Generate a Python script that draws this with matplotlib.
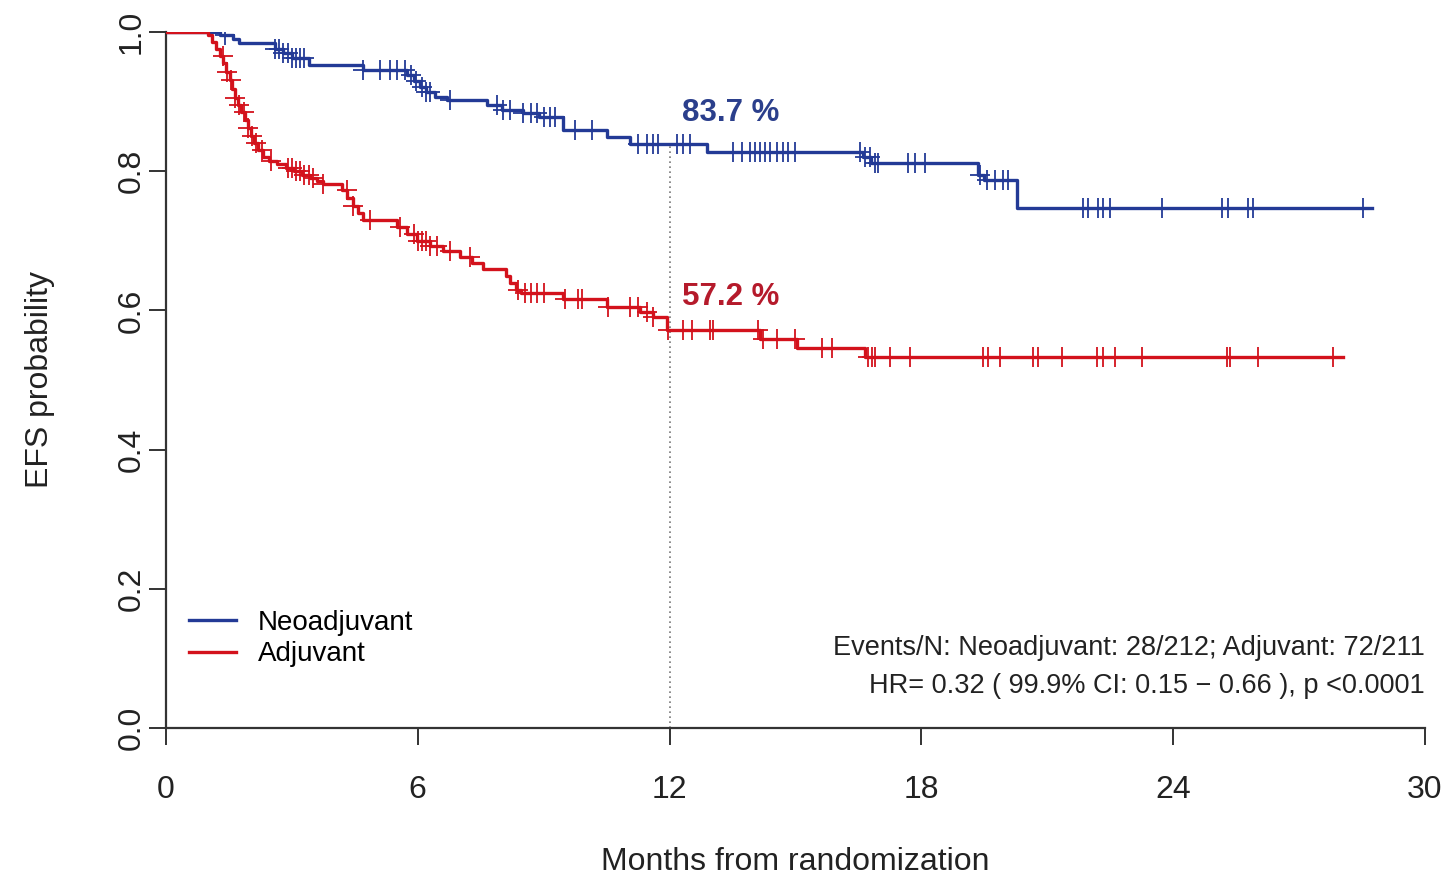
import matplotlib
matplotlib.use("Agg")
import matplotlib.pyplot as plt
import numpy as np

plt.rcParams['font.family'] = ['Liberation Sans', 'DejaVu Sans']

# Neoadjuvant arm: event times (months) and survival after each step
neo_times = [0, 1.3, 1.6, 1.75, 2.6, 2.8, 3.0, 3.4, 4.7, 5.74, 5.9, 6.05, 6.2, 6.4, 6.7,
             7.65, 8.0, 8.5, 8.9, 9.46, 10.5, 11.06, 12.89, 16.6, 16.8, 19.35, 19.5, 20.28]
neo_surv = [1.0, 0.995, 0.990, 0.984, 0.976, 0.970, 0.963, 0.953, 0.945, 0.938, 0.929, 0.921,
            0.914, 0.907, 0.902, 0.895, 0.888, 0.883, 0.878, 0.859, 0.849, 0.839, 0.828,
            0.820, 0.812, 0.795, 0.787, 0.747]
neo_end = 28.74
neo_censor = [1.4, 2.6, 2.7, 2.8, 2.9, 3.0, 3.1, 3.2, 3.3, 4.7, 5.1, 5.34, 5.5, 5.69,
              5.85, 5.95, 6.1, 6.2, 6.3, 6.77, 7.88, 8.03, 8.2, 8.5, 8.7, 8.85, 9.0, 9.15,
              9.27, 9.75, 10.15, 11.25, 11.46, 11.6, 11.72, 12.17, 12.32, 12.48, 13.51,
              13.72, 13.91, 14.03, 14.15, 14.27, 14.39, 14.56, 14.70, 14.82, 14.99, 16.54,
              16.65, 16.77, 16.89, 16.96, 17.68, 17.85, 18.08, 19.4, 19.56, 19.75, 19.94,
              20.06, 21.85, 21.97, 22.21, 22.33, 22.49, 23.73, 25.16, 25.3, 25.78, 25.9, 28.52]

# Adjuvant arm
adj_times = [0, 1.0, 1.1, 1.2, 1.29, 1.36, 1.44, 1.52, 1.58, 1.65, 1.72, 1.80, 1.88, 1.95,
             2.02, 2.10, 2.20, 2.31, 2.45, 2.64, 2.85, 3.05, 3.25, 3.43, 3.60, 3.74, 4.2,
             4.32, 4.45, 4.58, 4.69, 5.50, 5.75, 5.98, 6.3, 6.6, 7.0, 7.3, 7.55, 8.1, 8.2,
             8.35, 8.45, 9.46, 10.51, 11.29, 11.6, 11.94, 14.15, 15.03, 16.65]
adj_surv = [1.0, 0.995, 0.985, 0.975, 0.965, 0.955, 0.943, 0.931, 0.918, 0.905, 0.895,
            0.885, 0.874, 0.862, 0.850, 0.840, 0.830, 0.821, 0.815, 0.810, 0.805, 0.800,
            0.795, 0.790, 0.786, 0.781, 0.773, 0.762, 0.750, 0.740, 0.730, 0.720, 0.710,
            0.700, 0.692, 0.685, 0.677, 0.668, 0.660, 0.650, 0.640, 0.630, 0.625, 0.616,
            0.605, 0.598, 0.590, 0.572, 0.559, 0.546, 0.533]
adj_end = 28.05
adj_censor = [1.35, 1.45, 1.55, 1.65, 1.75, 1.85, 1.95, 2.05, 2.15, 2.3, 2.5, 2.9, 3.0,
              3.1, 3.2, 3.3, 3.4, 3.5, 3.74, 4.31, 4.46, 4.86, 5.58, 5.9, 6.0, 6.1, 6.2,
              6.3, 6.45, 6.77, 7.24, 8.4, 8.55, 8.7, 8.85, 9.0, 9.5, 9.82, 9.91, 10.53,
              11.06, 11.25, 11.46, 11.6, 11.96, 12.32, 12.53, 12.96, 13.03, 14.1, 14.22,
              14.56, 14.99, 15.63, 15.87, 16.73, 16.82, 16.89, 17.25, 17.73, 19.47, 19.59,
              19.87, 20.66, 20.78, 21.35, 22.18, 22.33, 22.61, 23.25, 25.28, 25.35, 26.02,
              27.8]

neo_12m = "83.7 %"
adj_12m = "57.2 %"
stats_text = ["Events/N: Neoadjuvant: 28/212; Adjuvant: 72/211",
              "HR= 0.32 ( 99.9% CI: 0.15 \u2212 0.66 ), p <0.0001"]

BLUE = '#233a96'
RED = '#d3121c'
AXC = '#333333'


def surv_at(times, surv, t):
    idx = np.searchsorted(times, t, side='right') - 1
    return np.asarray(surv)[idx]


def km_plot(ax, times, surv, end, censor, color, label):
    x = list(times) + [end]
    y = list(surv) + [surv[-1]]
    ax.step(x, y, where='post', color=color, lw=2.4, label=label, zorder=3)
    cy = surv_at(np.asarray(times), surv, np.asarray(censor))
    ax.plot(censor, cy, ls='none', marker='+', ms=15, mew=1.3, color=color, zorder=3)


fig = plt.figure(figsize=(14.53, 8.83), dpi=100)
ax = fig.add_axes([0.1142, 0.1755, 0.8665, 0.7883])

km_plot(ax, neo_times, neo_surv, neo_end, neo_censor, BLUE, "Neoadjuvant")
km_plot(ax, adj_times, adj_surv, adj_end, adj_censor, RED, "Adjuvant")

# 12-month landmark
s12 = surv_at(np.asarray(neo_times), neo_surv, 12)
ax.plot([12, 12], [0, s12], ls=(0, (1, 2)), color='#777777', lw=1.2, zorder=2)
ax.text(12.3, s12 + 0.045, neo_12m, color='#2b3f8c', fontsize=22.5, fontweight='bold',
        ha='left', va='center')
s12a = surv_at(np.asarray(adj_times), adj_surv, 12)
ax.text(12.3, s12a + 0.047, adj_12m, color='#b51a2b', fontsize=22.5, fontweight='bold',
        ha='left', va='center')

ax.set_xlim(0, 30)
ax.set_ylim(0, 1.0)
ax.set_xticks(np.arange(0, 31, 6))
ax.set_yticks(np.arange(0, 1.01, 0.2))
ax.set_yticklabels(["0.0", "0.2", "0.4", "0.6", "0.8", "1.0"], rotation=90, va='center')
for s in ['top', 'right']:
    ax.spines[s].set_visible(False)
for s in ['left', 'bottom']:
    ax.spines[s].set_color(AXC)
    ax.spines[s].set_linewidth(1.6)
ax.tick_params(axis='both', length=12, width=1.4, color=AXC, labelsize=23,
               labelcolor='#222222')
ax.tick_params(axis='x', pad=22)
ax.tick_params(axis='y', pad=2)
ax.set_xlabel("Months from randomization", fontsize=23, color='#222222', labelpad=30)
ax.set_ylabel("EFS probability", fontsize=23, color='#222222', labelpad=44)

ax.legend(loc='upper left', bbox_to_anchor=(0.018, 0.17), frameon=False, fontsize=20,
          handlelength=1.7, handletextpad=0.8, labelspacing=0.2, borderpad=0,
          borderaxespad=0)

ax.text(1.0, 0.115, stats_text[0], transform=ax.transAxes, ha='right', va='center',
        fontsize=19.5, color='#222222')
ax.text(1.0, 0.06, stats_text[1], transform=ax.transAxes, ha='right', va='center',
        fontsize=19.5, color='#222222')

fig.savefig("out.png", dpi=100, facecolor='white')
